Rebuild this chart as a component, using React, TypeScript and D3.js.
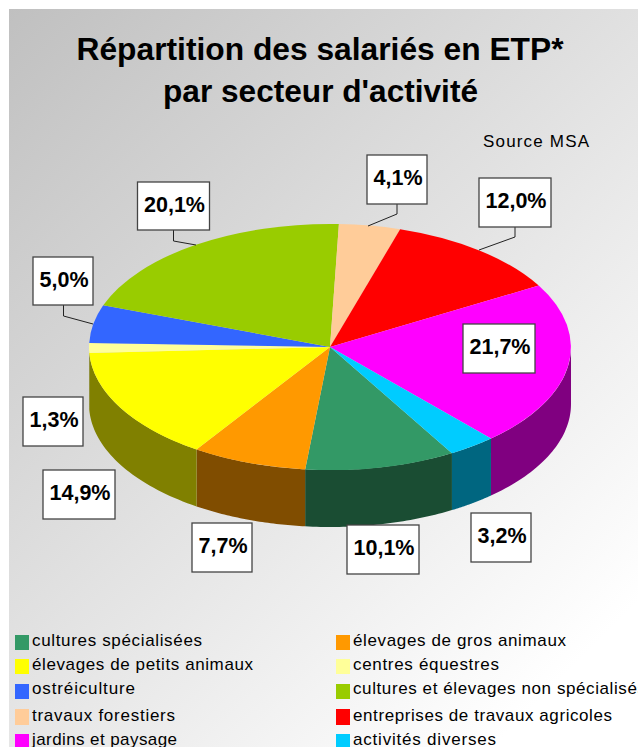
import React from 'react';
import * as d3 from 'd3';

const categories = ['cultures spécialisées','élevages de gros animaux','élevages de petits animaux','centres équestres','ostréiculture','cultures et élevages non spécialisés','travaux forestiers','entreprises de travaux agricoles','jardins et paysage','activités diverses'];
const values = [10.1,7.7,14.9,1.3,5.0,20.1,4.1,12.0,21.7,3.2];
const labels = ['10,1%','7,7%','14,9%','1,3%','5,0%','20,1%','4,1%','12,0%','21,7%','3,2%'];
const colors = ['#339966','#ff9900','#ffff00','#ffff99','#3366ff','#99cc00','#ffcc99','#ff0000','#ff00ff','#00ccff'];
const sideColors = ['#1a4d33','#804d00','#808000','#80804d','#1a3380','#4d6600','#80664d','#800000','#800080','#006680'];

const boxes: [number,number,number,number][] = [[347,525,72,49],[192,523,60,49],[43,470,72,49],[23,397,60,49],[33,257,60,48],[137.5,182,72,48],[367,155,60,49],[479,178,72,49],[463,324,72,49],[471,513,60,49]];
const leaders: (number[][]|null)[] = [null,null,null,null,[[63.5,305],[63.5,316],[93,324]],[[173.5,230],[173.5,241],[196,245]],[[397,204],[397,214],[368,226]],[[515,227],[515,237],[479,250]],null,null];
const swatchX = [15,336];
const textX = [32,353];
const swatchY = [635,659,684,709,734];
const baseY = [646,670,694,721,745];
const legendW = [170,213,221,146,103,293,143,259,145,143];

const W = 638, H = 747;
const cx = 330, cy = 347, rx = 241, ry = 123, depth = 57;

export default function App() {
  const pie = d3.pie<number>().sort(null).startAngle(149.6*Math.PI/180).endAngle((149.6+360)*Math.PI/180);
  const arcs = pie(values);
  const arc = d3.arc<d3.PieArcDatum<number>>().innerRadius(0).outerRadius(1);
  const sx = d3.scaleLinear().domain([-1,1]).range([cx-rx,cx+rx]);
  const sy = d3.scaleLinear().domain([-1,1]).range([cy-ry,cy+ry]);
  const pt = (a:number,dy=0):[number,number] => [sx(Math.sin(a)), sy(-Math.cos(a))+dy];
  const line = d3.line();
  const sidePath = (a0:number,a1:number) => {
    const tau = Math.PI*2;
    const segs:string[] = [];
    for (const k of [0,1]) {
      const lo = Math.max(a0, Math.PI/2 + k*tau), hi = Math.min(a1, 1.5*Math.PI + k*tau);
      if (hi>lo) {
        const as = d3.range(0,41).map(i=>lo+(hi-lo)*i/40);
        const top = as.map(a=>pt(a));
        const bot = as.slice().reverse().map(a=>pt(a,depth));
        segs.push(line([...top,...bot])+'Z');
      }
    }
    return segs.join('');
  };
  return (
    <svg width={W} height={H} viewBox={`0 0 ${W} ${H}`} style={{position:'absolute',left:0,top:0,display:'block',fontFamily:'"Liberation Sans",Arial,sans-serif'}}>
      <defs>
        <linearGradient id="bg" gradientUnits="userSpaceOnUse" x1="9" y1="9" x2="620" y2="620">
          <stop offset="0" stopColor="#c0c0c0"/>
          <stop offset="1" stopColor="#ffffff"/>
        </linearGradient>
      </defs>
      <rect width={W} height={H} fill="#fff"/>
      <rect x={9} y={9} width={W-9} height={H-9} fill="url(#bg)"/>
      <text x={320} y={60} textAnchor="middle" fontSize={32} fontWeight="bold" fill="#000" textLength={487} lengthAdjust="spacingAndGlyphs">Répartition des salariés en ETP*</text>
      <text x={320.5} y={102} textAnchor="middle" fontSize={32} fontWeight="bold" fill="#000" textLength={315} lengthAdjust="spacingAndGlyphs">par secteur d'activité</text>
      <text x={483} y={147} fontSize={17} fill="#000" textLength={106} lengthAdjust="spacing">Source MSA</text>
      {arcs.map((d,i)=><path key={'s'+i} d={sidePath(d.startAngle,d.endAngle)} fill={sideColors[i]}/>)}
      <g transform={`translate(${cx},${cy}) scale(${rx},${ry})`}>
        {arcs.map((d,i)=><path key={i} d={arc(d)!} fill={colors[i]}/>)}
      </g>
      {leaders.map((l,i)=>l && <path key={'l'+i} d={line(l as [number,number][])!} fill="none" stroke="#222" strokeWidth={1}/>)}
      {boxes.map((b,i)=>(
        <g key={'b'+i}>
          <rect x={b[0]} y={b[1]} width={b[2]} height={b[3]} fill="#fff" stroke="#444" strokeWidth={1.3}/>
          <text x={b[0]+b[2]/2+1} y={b[1]+30} textAnchor="middle" fontSize={22.5} fontWeight="bold" fill="#000" textLength={b[2]>65?61:49} lengthAdjust="spacingAndGlyphs">{labels[i]}</text>
        </g>
      ))}
      {categories.map((c,i)=>{
        const col=i%2,row=Math.floor(i/2);
        return (
          <g key={'k'+i}>
            <rect x={swatchX[col]} y={swatchY[row]} width={14} height={row===3?16:15} fill={colors[i]}/>
            <text x={textX[col]} y={baseY[row]} fontSize={17} fill="#000" textLength={legendW[i]} lengthAdjust="spacing">{c}</text>
          </g>
        );
      })}
    </svg>
  );
}
